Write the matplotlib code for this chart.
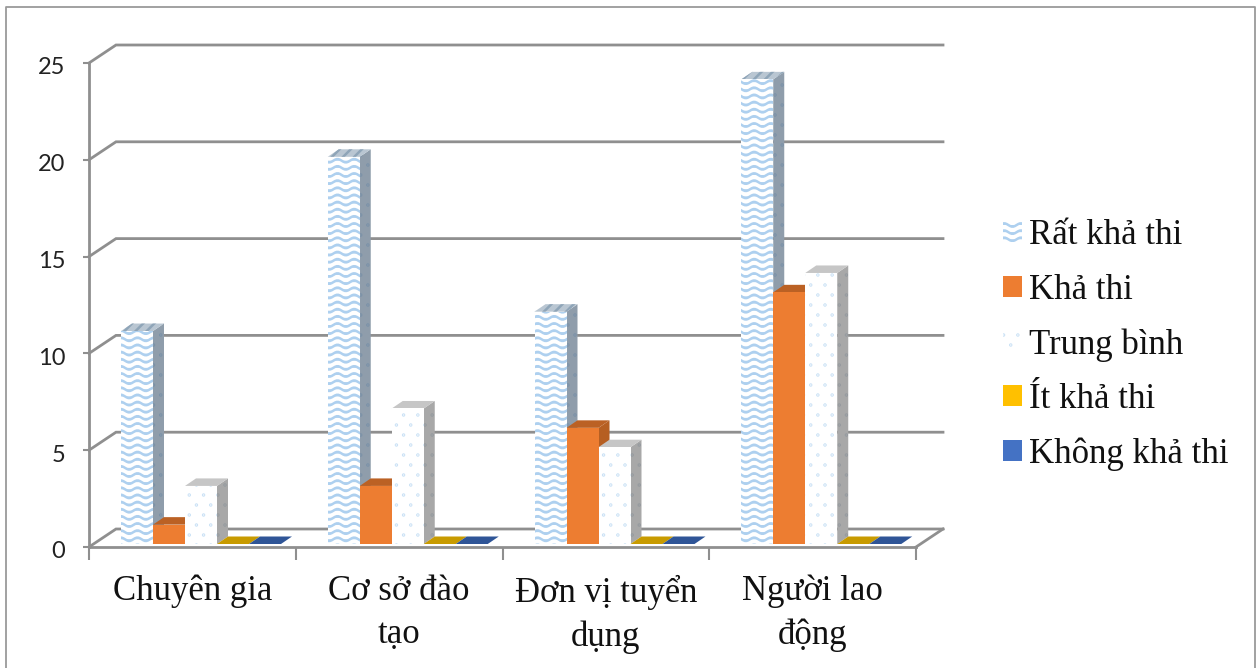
import matplotlib
matplotlib.use('Agg')
import matplotlib.pyplot as plt
import matplotlib.hatch as mhatch
from matplotlib.patches import Patch, Polygon, Rectangle
from matplotlib.path import Path
from matplotlib.transforms import ScaledTranslation
import numpy as np

categories = ['Chuyên gia', 'Cơ sở đào\ntạo', 'Đơn vị tuyển\ndụng', 'Người lao\nđộng']
series_names = ['Rất khả thi', 'Khả thi', 'Trung bình', 'Ít khả thi', 'Không khả thi']
rat_kha_thi = [11, 20, 12, 24]
kha_thi = [1, 3, 6, 13]
trung_binh = [3, 7, 5, 14]
it_kha_thi = [0, 0, 0, 0]
khong_kha_thi = [0, 0, 0, 0]
y_ticks = [0, 5, 10, 15, 20, 25]


# wave texture for the "Rat kha thi" bars, used as a normal hatch
class WaveHatch(mhatch.HatchPatternBase):
    def __init__(self, hatch, density):
        self.rows = hatch.count('w') * 14
        self.num_vertices = self.rows * 61
        self.filled = False

    def set_vertices_and_codes(self, vertices, codes):
        xs = np.linspace(0, 1, 61)
        k = 0
        for r in range(self.rows):
            vertices[k:k + 61, 0] = xs
            vertices[k:k + 61, 1] = (r + 0.5) / self.rows + 0.017 * np.sin(xs * 2 * np.pi * 6)
            codes[k] = Path.MOVETO
            codes[k + 1:k + 61] = Path.LINETO
            k += 61


# staggered small dots for the "Trung binh" bars
class DotHatch(mhatch.HatchPatternBase):
    def __init__(self, hatch, density):
        self.n = hatch.count('d') * 7
        self.rows = hatch.count('d') * 10
        self.circle = Path.unit_circle()
        self.num_vertices = self.n * self.rows * len(self.circle.vertices)
        self.filled = True

    def set_vertices_and_codes(self, vertices, codes):
        nv = len(self.circle.vertices)
        k = 0
        for r in range(self.rows):
            for c in range(self.n):
                px = (c + 0.5 * (r % 2) + 0.25) / self.n
                py = (r + 0.5) / self.rows
                vertices[k:k + nv] = self.circle.vertices * 0.004 + [px, py]
                codes[k:k + nv] = self.circle.codes
                k += nv


mhatch._hatch_types.extend([WaveHatch, DotHatch])
plt.rcParams['hatch.linewidth'] = 1.8

SERIF = 'Liberation Serif'
GRAY = '#8f8f8f'

fig = plt.figure(figsize=(12.59, 6.68), dpi=100)
ax = fig.add_axes([89 / 1259, 121 / 668, 827 / 1259, 484 / 668])
ax.set_xlim(0, 4)
ax.set_ylim(0, 25)

# sizes in pixels turned into data units
px_x = 4 / 827
px_y = 25 / 484
wall_dx, wall_dy = 27 * px_x, 18 * px_y
bar_dx, bar_dy = 11 * px_x, 7.5 * px_y
bar_w = 32 * px_x
gap = 32 * px_x
base = 3 * px_y

# back wall and floor
for t in y_ticks:
    ax.plot([0, wall_dx, 4 + wall_dx], [t, t + wall_dy, t + wall_dy], color=GRAY, lw=2,
            clip_on=False, zorder=1, solid_joinstyle='miter')
ax.plot([4, 4 + wall_dx], [0, wall_dy], color=GRAY, lw=2, clip_on=False, zorder=1)

styles = [
    dict(front='white', hatch='w', hc='#aed0ef', side='#8f9dab', side_hatch='d', side_hc='#7790a8',
         top='#b9c6d2', top_hatch='///', top_hc='#8fa5b8'),
    dict(front='#ed7d31', hatch=None, hc='#ed7d31', side='#b65f22', side_hatch=None, side_hc='#b65f22',
         top='#bb6124', top_hatch=None, top_hc='#bb6124'),
    dict(front='white', hatch='d', hc='#c4def4', side='#a8a8a8', side_hatch='d', side_hc='#92989e',
         top='#c6c6c6', top_hatch=None, top_hc='#c6c6c6'),
    dict(front='#ffc000', hatch=None, hc='#ffc000', side='#b98c00', side_hatch=None, side_hc='#b98c00',
         top='#c89b00', top_hatch=None, top_hc='#c89b00'),
    dict(front='#4472c4', hatch=None, hc='#4472c4', side='#2f5597', side_hatch=None, side_hc='#2f5597',
         top='#2f5597', top_hatch=None, top_hc='#2f5597'),
]
all_series = [rat_kha_thi, kha_thi, trung_binh, it_kha_thi, khong_kha_thi]


def face(points, color, hatch, hc, z):
    ax.add_patch(Polygon(points, closed=True, facecolor=color, edgecolor=hc, hatch=hatch, lw=0,
                         clip_on=False, zorder=z))


for c in range(len(categories)):
    for s in range(len(all_series)):
        v = all_series[s][c]
        st = styles[s]
        x0 = c + gap + s * bar_w
        x1 = x0 + bar_w
        y0 = base
        y1 = base + v
        z = 3 + c + s * 0.1
        face([(x1, y0), (x1 + bar_dx, y0 + bar_dy), (x1 + bar_dx, y1 + bar_dy), (x1, y1)],
             st['side'], st['side_hatch'], st['side_hc'], z)
        face([(x0, y1), (x1, y1), (x1 + bar_dx, y1 + bar_dy), (x0 + bar_dx, y1 + bar_dy)],
             st['top'], st['top_hatch'], st['top_hc'], z)
        if v > 0:
            ax.add_patch(Rectangle((x0, y0), bar_w, v, facecolor=st['front'], edgecolor=st['hc'],
                                   hatch=st['hatch'], lw=0, clip_on=False, zorder=z + 0.01))

# axes
for side in ['top', 'right']:
    ax.spines[side].set_visible(False)
for side in ['left', 'bottom']:
    ax.spines[side].set_color(GRAY)
    ax.spines[side].set_linewidth(2)
    ax.spines[side].set_zorder(2)
ax.patch.set_alpha(0)

ax.set_yticks(y_ticks)
ax.set_yticklabels([str(t) for t in y_ticks], family='Lato', fontsize=17, color='#222222')
ax.tick_params(axis='y', length=4.5, width=1.5, color=GRAY, pad=12.5)
# numbers sit a little under their tick in the original
nudge = ScaledTranslation(0, -3 / 100, fig.dpi_scale_trans)
for lab in ax.get_yticklabels():
    lab.set_transform(lab.get_transform() + nudge)
ax.set_xticks(range(5))
ax.set_xticklabels([])
ax.tick_params(axis='x', which='major', length=9, width=1.5, color=GRAY)
ax.set_xticks(np.arange(4) + 0.5, minor=True)
ax.set_xticklabels(categories, minor=True, family=SERIF, fontsize=25, color='#111111', linespacing=1.41)
ax.tick_params(axis='x', which='minor', length=0, pad=20)

# legend
handles = [Patch(facecolor='white', edgecolor=styles[0]['hc'], hatch='w', lw=0),
           Patch(facecolor='#ed7d31', lw=0),
           Patch(facecolor='white', edgecolor=styles[2]['hc'], hatch='d', lw=0),
           Patch(facecolor='#ffc000', lw=0),
           Patch(facecolor='#4472c4', lw=0)]
leg = fig.legend(handles, series_names, loc='upper left', bbox_to_anchor=(1003 / 1259, 1 - 219 / 668),
                 frameon=False, prop={'family': SERIF, 'size': 25}, handlelength=0.55, handleheight=0.55,
                 handletextpad=0.2, labelspacing=0.62, borderpad=0, borderaxespad=0)
for t in leg.get_texts():
    t.set_color('#111111')

# picture frame, open at the bottom
fig.add_artist(plt.Line2D([6 / 1259, 6 / 1259, 1255 / 1259, 1255 / 1259], [0, 1 - 7 / 668, 1 - 7 / 668, 0],
                          color='#9a9a9a', lw=1.3))

fig.savefig('out.png', dpi=100)
